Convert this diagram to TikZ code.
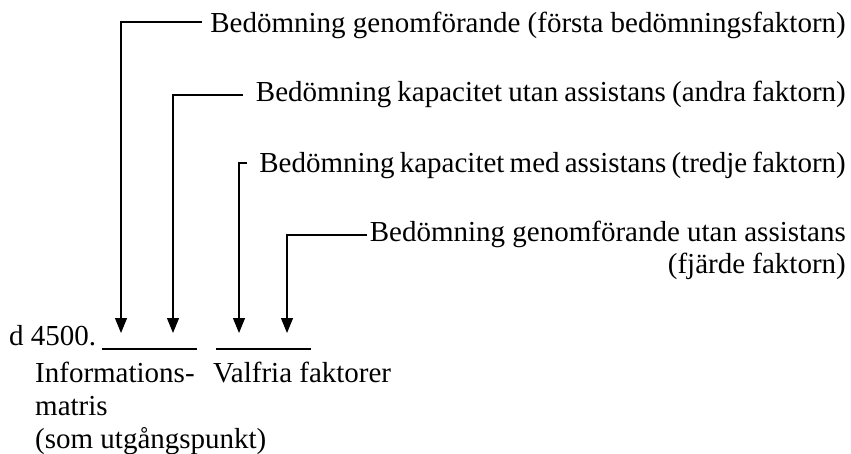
\documentclass[tikz,border=0pt]{standalone}
\usepackage{fontspec}
\setmainfont{Liberation Serif}
\usetikzlibrary{arrows.meta}
\begin{document}
\begin{tikzpicture}[x=1pt,y=-1pt,
  lbl/.style={inner sep=0pt, font=\fontsize{29}{33}\selectfont},
  arr/.style={-{Triangle[width=12pt,length=15pt]}, line width=1.2pt},
  uline/.style={line width=2.4pt}]
\useasboundingbox (0,0) rectangle (851,454);
% right labels
\node[lbl, anchor=base east] (l1) at (846,33) {Bedömning genomförande (första bedömningsfaktorn)};
\node[lbl, anchor=base east] (l2) at (846,102) {\spaceskip=6.2pt plus 1pt Bedömning kapacitet utan assistans (andra faktorn)};
\node[lbl, anchor=base east] (l3) at (846,173) {\spaceskip=5.2pt plus 1pt Bedömning kapacitet med assistans (tredje faktorn)};
\node[lbl, anchor=base east] (l4) at (846,242) {Bedömning genomförande utan assistans};
\node[lbl, anchor=base east] (l4b) at (846,274) {(fjärde faktorn)};
% bottom labels
\node[lbl, anchor=base west] (d) at (9,345) {d 4500.};
\node[lbl, anchor=base west] (im1) at (35,382) {Informations-};
\node[lbl, anchor=base west] (im2) at (35,415) {matris};
\node[lbl, anchor=base west] (im3) at (35,448) {(som utgångspunkt)};
\node[lbl, anchor=base west] (vf) at (213,382) {Valfria faktorer};
% underlines
\coordinate (u1a) at (102,349);
\coordinate (u1b) at (197,349);
\coordinate (u2a) at (216,349);
\coordinate (u2b) at (311,349);
\draw[uline] (u1a) -- (u1b);
\draw[uline] (u2a) -- (u2b);
% arrow targets
\coordinate (t1) at (121,333);
\coordinate (t2) at (173,333);
\coordinate (t3) at (239,333);
\coordinate (t4) at (287,333);
\draw[arr] ([xshift=-8pt,yshift=11pt]l1.base west) -| (t1);
\draw[arr] ([xshift=-13pt,yshift=7pt]l2.base west) -| (t2);
\draw[arr] ([xshift=-12pt,yshift=10pt]l3.base west) -| (t3);
\draw[arr] ([xshift=-3pt,yshift=7pt]l4.base west) -| (t4);
\end{tikzpicture}
\end{document}
